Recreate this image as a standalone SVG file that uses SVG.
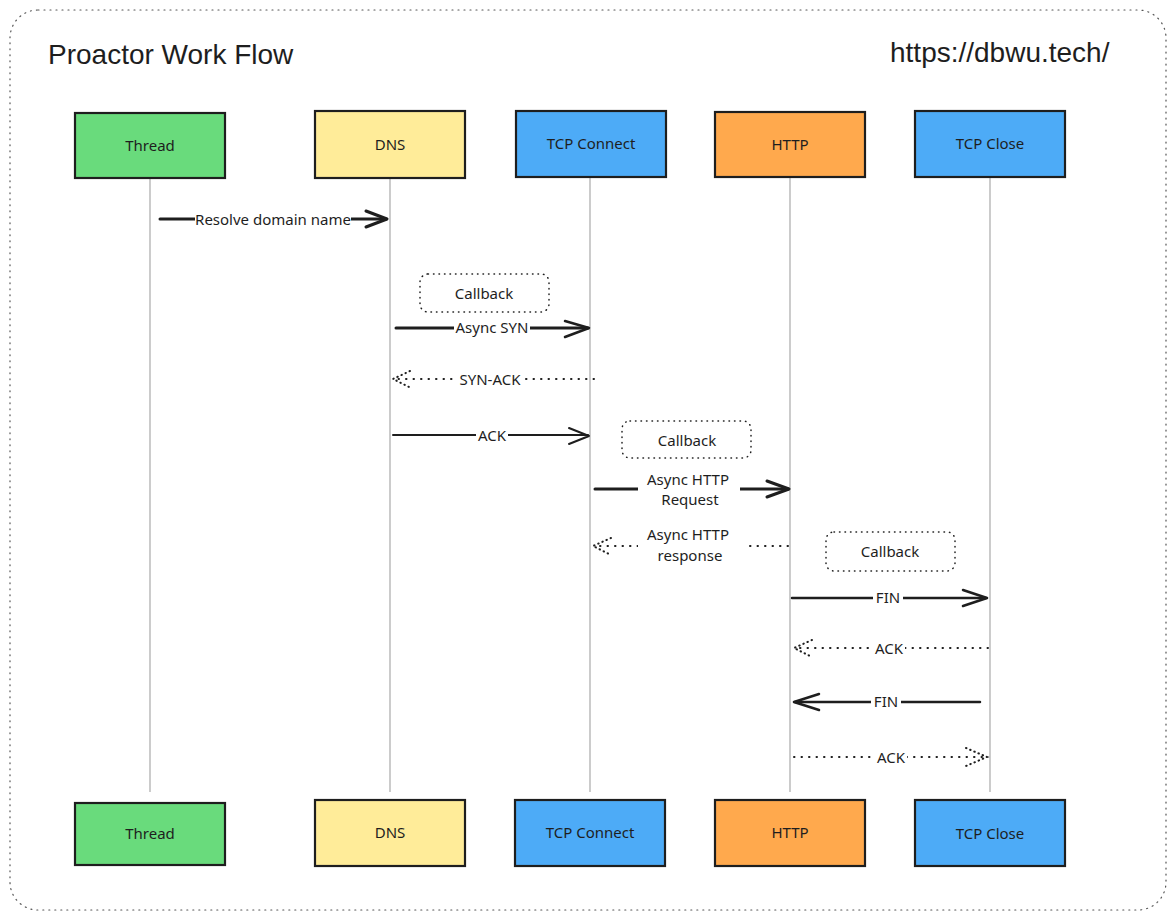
<svg xmlns="http://www.w3.org/2000/svg" width="1176" height="920" viewBox="0 0 1176 920">
<style>
.frame{fill:none;stroke:#555;stroke-width:1.2;stroke-dasharray:1 5;stroke-linecap:round}
.title{font-family:"Liberation Sans",Arial,sans-serif;font-size:28px;fill:#1e1e1e}
.node{stroke:#1e1e1e;stroke-width:2.2}
.ntext{font-family:"Noto Sans","DejaVu Sans",sans-serif;font-size:15px;fill:#1e1e1e;text-anchor:middle;dominant-baseline:central}
.life{stroke:#b0b0b0;stroke-width:1.3}
.solid{fill:none;stroke:#1e1e1e;stroke-width:2;stroke-linecap:round;stroke-linejoin:round}
.thick{fill:none;stroke:#1e1e1e;stroke-width:3;stroke-linecap:round;stroke-linejoin:round}
.dot{fill:none;stroke:#1e1e1e;stroke-width:2;stroke-dasharray:0.5 7;stroke-linecap:round}
.lbl{font-family:"Noto Sans","DejaVu Sans",sans-serif;font-size:15px;fill:#1e1e1e;text-anchor:middle;dominant-baseline:central}
.bg{fill:#ffffff}
.cb{fill:#ffffff;stroke:#1e1e1e;stroke-width:1.5;stroke-dasharray:0.5 5;stroke-linecap:round}
.green{fill:#69db7c}.yellow{fill:#ffec99}.blue{fill:#4dabf7}.orange{fill:#ffa94d}
</style>
<rect x="0" y="0" width="1176" height="920" fill="#ffffff"/>
<rect class="frame" x="10" y="10" width="1156" height="900" rx="28"/>
<text class="title" x="48" y="64">Proactor Work Flow</text>
<text class="title" x="890" y="62">https://dbwu.tech/</text>

<g id="lifelines">
<line class="life" x1="150" y1="178" x2="150" y2="792"/>
<line class="life" x1="390" y1="178" x2="390" y2="792"/>
<line class="life" x1="590" y1="177" x2="590" y2="792"/>
<line class="life" x1="790" y1="177" x2="790" y2="792"/>
<line class="life" x1="990" y1="177" x2="990" y2="792"/>
</g>

<g id="thread-top"><rect class="node green" x="75" y="113" width="150" height="65"/><text class="ntext" x="150" y="145">Thread</text></g>
<g id="dns-top"><rect class="node yellow" x="315" y="111" width="150" height="67"/><text class="ntext" x="390" y="144">DNS</text></g>
<g id="tcpconnect-top"><rect class="node blue" x="516" y="111" width="150" height="66"/><text class="ntext" x="591" y="143">TCP Connect</text></g>
<g id="http-top"><rect class="node orange" x="715" y="112" width="150" height="65"/><text class="ntext" x="790" y="144">HTTP</text></g>
<g id="tcpclose-top"><rect class="node blue" x="915" y="111" width="150" height="66"/><text class="ntext" x="990" y="143">TCP Close</text></g>

<g id="thread-bottom"><rect class="node green" x="75" y="803" width="150" height="62"/><text class="ntext" x="150" y="833">Thread</text></g>
<g id="dns-bottom"><rect class="node yellow" x="315" y="800" width="150" height="66"/><text class="ntext" x="390" y="832">DNS</text></g>
<g id="tcpconnect-bottom"><rect class="node blue" x="515" y="800" width="150" height="66"/><text class="ntext" x="590" y="832">TCP Connect</text></g>
<g id="http-bottom"><rect class="node orange" x="715" y="800" width="150" height="66"/><text class="ntext" x="790" y="832">HTTP</text></g>
<g id="tcpclose-bottom"><rect class="node blue" x="915" y="800" width="150" height="66"/><text class="ntext" x="990" y="833">TCP Close</text></g>

<g id="callback1"><rect class="cb" x="420" y="274" width="129" height="38" rx="8"/><text class="lbl" x="484" y="293">Callback</text></g>
<g id="callback2"><rect class="cb" x="622" y="421" width="129" height="37" rx="8"/><text class="lbl" x="687" y="440">Callback</text></g>
<g id="callback3"><rect class="cb" x="826" y="532" width="129" height="39" rx="8"/><text class="lbl" x="890" y="551">Callback</text></g>

<g id="connectors">
<line class="thick" x1="160" y1="219" x2="386" y2="219"/>
<path class="thick" d="M366 211 L387 219 L366 227"/>
<rect class="bg" x="195" y="209" width="156" height="20"/>
<text class="lbl" x="273" y="219">Resolve domain name</text>

<line class="thick" x1="396" y1="328" x2="588" y2="328"/>
<path class="solid" d="M565 321 L589 328 L565 337" style="stroke-width:2.5"/>
<rect class="bg" x="454" y="318" width="76" height="20"/>
<text class="lbl" x="492" y="327">Async SYN</text>

<line class="dot" x1="594" y1="379" x2="394" y2="379"/>
<path class="dot" d="M410 371 L393 379 L411 388" style="stroke-dasharray:0.5 4"/>
<rect class="bg" x="457" y="369" width="66" height="20"/>
<text class="lbl" x="490" y="379">SYN-ACK</text>

<line class="solid" x1="393" y1="435" x2="588" y2="435"/>
<path class="solid" d="M569 428 L589 436 L569 444"/>
<rect class="bg" x="476" y="425" width="32" height="20"/>
<text class="lbl" x="492" y="435">ACK</text>

<line class="thick" x1="595" y1="489" x2="788" y2="489"/>
<path class="thick" d="M767 481 L789 489 L767 497"/>
<rect class="bg" x="638" y="468" width="102" height="42"/>
<text class="lbl" x="688" y="479">Async HTTP</text>
<text class="lbl" x="690" y="499">Request</text>

<line class="dot" x1="788" y1="546" x2="596" y2="546"/>
<path class="dot" d="M611 538 L593 546 L611 555" style="stroke-dasharray:0.5 4"/>
<rect class="bg" x="638" y="524" width="106" height="42"/>
<text class="lbl" x="688" y="534">Async HTTP</text>
<text class="lbl" x="690" y="555">response</text>

<line class="solid" x1="792" y1="598" x2="986" y2="598" style="stroke-width:2.5"/>
<path class="solid" d="M963 590 L987 598 L963 606" style="stroke-width:2.5"/>
<rect class="bg" x="873" y="588" width="30" height="20"/>
<text class="lbl" x="888" y="597">FIN</text>

<line class="dot" x1="988" y1="648" x2="797" y2="648"/>
<path class="dot" d="M812 640 L794 648 L812 657" style="stroke-dasharray:0.5 4"/>
<rect class="bg" x="873" y="638" width="32" height="20"/>
<text class="lbl" x="889" y="648">ACK</text>

<line class="solid" x1="980" y1="702" x2="795" y2="702" style="stroke-width:2.5"/>
<path class="solid" d="M819 694 L794 702 L819 710" style="stroke-width:2.5"/>
<rect class="bg" x="871" y="692" width="30" height="20"/>
<text class="lbl" x="886" y="701">FIN</text>

<line class="dot" x1="794" y1="757" x2="984" y2="757"/>
<path class="dot" d="M966 748 L987 757 L966 766" style="stroke-dasharray:0.5 4"/>
<rect class="bg" x="875" y="747" width="32" height="20"/>
<text class="lbl" x="891" y="757">ACK</text>
</g>
</svg>
